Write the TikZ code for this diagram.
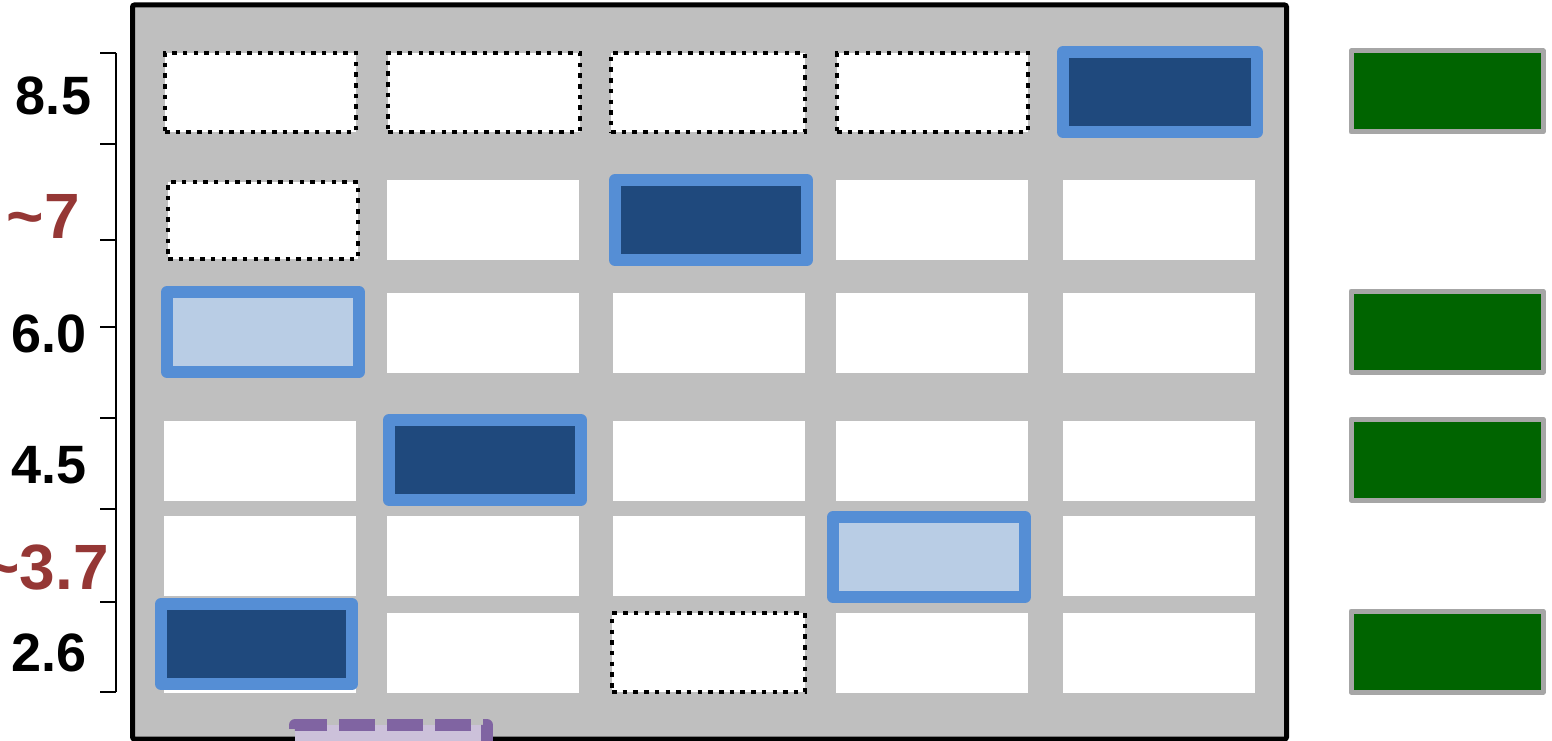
\documentclass[tikz,border=0pt]{standalone}
\usepackage{fontspec}
\setmainfont{Liberation Sans}
\definecolor{panelgray}{HTML}{BFBFBF}
\definecolor{hlstroke}{HTML}{558ED5}
\definecolor{hldark}{HTML}{1F497D}
\definecolor{hllight}{HTML}{B9CDE5}
\definecolor{okgreen}{HTML}{006400}
\definecolor{okstroke}{HTML}{A6A6A6}
\definecolor{purpdash}{HTML}{8064A2}
\definecolor{purpfill}{HTML}{CCC1DA}
\definecolor{approxred}{HTML}{953735}
\begin{document}
\begin{tikzpicture}[x=1pt,y=-1pt,
  cell/.style={draw=none,fill=white,minimum width=192pt,minimum height=80pt,inner sep=0pt,outer sep=0pt},
  dotcell/.style={cell,minimum height=79pt,draw=black,line width=4.5pt,dash pattern=on 4.5pt off 6.2pt},
  hlbox/.style={draw=hlstroke,line width=12pt,line join=round,minimum width=192pt,minimum height=80pt,inner sep=0pt,outer sep=0pt},
  hldarkbox/.style={hlbox,fill=hldark},
  hllightbox/.style={hlbox,fill=hllight},
  greenbox/.style={draw=okstroke,fill=okgreen,line width=5pt,line join=round,minimum width=192pt,minimum height=81pt,inner sep=0pt,outer sep=0pt},
  vallabel/.style={font=\fontsize{54}{60}\selectfont\bfseries,text=black,inner sep=0pt,anchor=base},
  approxlabel/.style={font=\fontsize{64}{70}\selectfont\bfseries,text=approxred,inner sep=0pt,anchor=base east},
  bracketline/.style={line width=2pt,draw=black}
]
\useasboundingbox (0,0) rectangle (1552,741);
\clip (0,0) rectangle (1552,741);

% panel
\draw[line width=5pt,fill=panelgray,rounded corners=2pt] (132.5,5) rectangle (1286.5,739);

% plain white cells
\foreach \r/\y in {1/92.5,2/220,3/333,4/460.5,5/556,6/653}{
  \foreach \c/\x in {1/260,2/483,3/708.5,4/932,5/1159}{
    \ifnum\r=1 \ifnum\c<5 \else \node[cell] (c\r\c) at (\x,\y) {}; \fi
    \else\ifnum\r\c=21 \else\ifnum\r\c=63 \else
      \node[cell] (c\r\c) at (\x,\y) {};
    \fi\fi\fi
  }
}

% dotted cells
\node[dotcell,minimum width=191pt] (d11) at (260.5,92.5) {};
\node[dotcell] (d12) at (484,92.5) {};
\node[dotcell,minimum width=194pt] (d13) at (708,92.5) {};
\node[dotcell,minimum width=191pt] (d14) at (932.5,92.5) {};
\node[dotcell,minimum width=190pt,minimum height=77pt] (d21) at (263,220.5) {};
\node[dotcell,minimum width=193pt] (d63) at (708.5,652.5) {};

% highlighted cells
\node[hldarkbox,minimum width=194pt] (h15) at (1160,92) {};
\node[hldarkbox] (h23) at (711,220) {};
\node[hllightbox] (h31) at (263,332) {};
\node[hldarkbox] (h42) at (485,460) {};
\node[hllightbox] (h54) at (929,557) {};
\node[hldarkbox,minimum width=191pt] (h61) at (256.5,644) {};

% purple dashed box at bottom
\fill[purpfill] (295,725) rectangle (487,800);
\coordinate (pa) at (295,741);
\coordinate (pb) at (295,725);
\coordinate (pc) at (487,725);
\coordinate (pd) at (487,800);
\draw[purpdash,line width=12pt,line join=round,dash pattern=on 36pt off 12pt,dash phase=36pt] (pa) -- (pb) -- (pc) -- (pd);

% green boxes
\node[greenbox] (g1) at (1447,91.5) {};
\node[greenbox] (g3) at (1447,331.5) {};
\node[greenbox] (g4) at (1447,459.5) {};
\node[greenbox] (g6) at (1447,651.5) {};

% bracket
\coordinate (bt) at (116,53);
\coordinate (bb) at (116,692);
\draw[bracketline] (bt) -- (bb);
\foreach \ty in {53,144,240,327,418,509,602,692}{
  \draw[bracketline] (100,\ty) -- (116,\ty);
}

% labels
\node[vallabel] (l85) at (53.5,115) {8.5};
\node[approxlabel] (l7) at (80,238) {\textasciitilde 7};
\node[vallabel] (l60) at (49,352) {6.0};
\node[vallabel] (l45) at (49,483) {4.5};
\node[approxlabel] (l37) at (109,589) {\textasciitilde 3.7};
\node[vallabel] (l26) at (49,671) {2.6};
\end{tikzpicture}
\end{document}
